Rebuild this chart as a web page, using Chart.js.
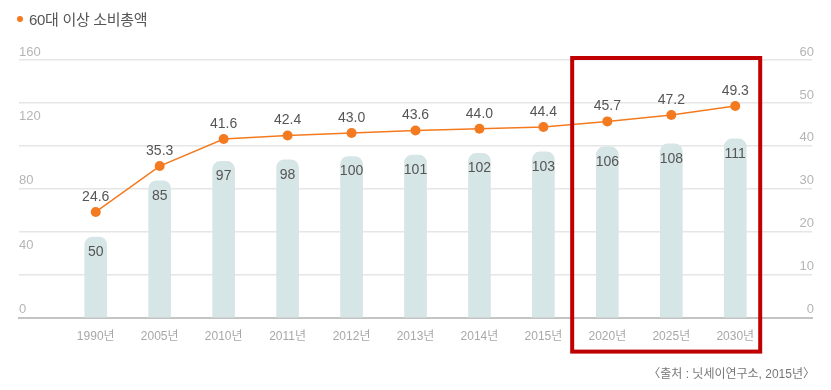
<!DOCTYPE html>
<html>
<head>
<meta charset="utf-8">
<script src="https://cdn.jsdelivr.net/npm/chart.js@4/dist/chart.umd.min.js"></script>
<style>
  html, body { margin: 0; padding: 0; background: #fff; }
  .wrap { position: relative; width: 831px; height: 390px; font-family: "Liberation Sans", "Noto Sans CJK KR", sans-serif; }
  .title { position: absolute; left: 17px; top: 8px; font-size: 15px; color: #555; letter-spacing: -0.3px; }
  .title .dot { display: inline-block; width: 6px; height: 6px; border-radius: 50%; background: #f47a20; margin-right: 6px; vertical-align: middle; position: relative; top: -2px; }
  .source { position: absolute; right: 16px; top: 364px; font-size: 12px; color: #777; }
  canvas { position: absolute; left: 0; top: 0; }
</style>
</head>
<body>
<div class="wrap">
  <canvas id="chart" width="831" height="390"></canvas>
  <div class="title"><span class="dot"></span>60대 이상 소비총액</div>
  <div class="source">〈출처 : 닛세이연구소, 2015년〉</div>
</div>
<script>
// data
const categories = ['1990년', '2005년', '2010년', '2011년', '2012년', '2013년', '2014년', '2015년', '2020년', '2025년', '2030년'];
const spending = [50, 85, 97, 98, 100, 101, 102, 103, 106, 108, 111];
const share = [24.6, 35.3, 41.6, 42.4, 43.0, 43.6, 44.0, 44.4, 45.7, 47.2, 49.3];
const highlightFrom = '2020년';

const FONT = '"Liberation Sans", "Noto Sans CJK KR", sans-serif';

// value labels over the points and inside the bars
const valueLabels = {
  id: 'valueLabels',
  afterDatasetsDraw(chart) {
    const ctx = chart.ctx;
    ctx.save();
    ctx.font = '14px ' + FONT;
    ctx.fillStyle = '#555';
    ctx.textAlign = 'center';
    ctx.textBaseline = 'middle';
    chart.getDatasetMeta(1).data.forEach((bar, i) => {
      ctx.fillText(String(spending[i]), bar.x, bar.y + 15);
    });
    chart.getDatasetMeta(0).data.forEach((pt, i) => {
      ctx.fillText(share[i].toFixed(1), pt.x, pt.y - 15);
    });
    ctx.restore();
  }
};

// red box round the forecast years
const forecastBox = {
  id: 'forecastBox',
  afterDraw(chart) {
    const x = chart.scales.x;
    const area = chart.chartArea;
    const start = categories.indexOf(highlightFrom);
    const left = x.getPixelForValue(start - 0.55);
    const right = x.getPixelForValue(categories.length - 1 + 0.39);
    const ctx = chart.ctx;
    ctx.save();
    ctx.strokeStyle = '#c00000';
    ctx.lineWidth = 4;
    ctx.strokeRect(left, area.top - 2, right - left, area.bottom - area.top + 36);
    ctx.restore();
  }
};

new Chart(document.getElementById('chart'), {
  data: {
    datasets: [
      {
        type: 'line',
        data: share.map((v, i) => ({ x: i, y: v })),
        yAxisID: 'y2',
        borderColor: '#f47a20',
        borderWidth: 1.5,
        backgroundColor: '#f47a20',
        pointRadius: 5,
        pointBorderWidth: 0,
        tension: 0,
        order: 0
      },
      {
        type: 'bar',
        data: spending.map((v, i) => ({ x: i, y: v })),
        yAxisID: 'y',
        backgroundColor: '#d6e5e5',
        barThickness: 22,
        borderRadius: 8,
        borderSkipped: 'start',
        order: 1
      }
    ]
  },
  options: {
    responsive: false,
    animation: false,
    layout: { padding: { left: 19, right: 15, top: 60, bottom: 42 } },
    plugins: { legend: { display: false }, tooltip: { enabled: false } },
    scales: {
      x: {
        type: 'linear',
        offset: false,
        min: -1.2,
        max: categories.length - 1 + 1.2,
        afterBuildTicks: axis => { axis.ticks = categories.map((_, i) => ({ value: i })); },
        ticks: {
          callback: v => categories[v] || '',
          color: '#a8a8a8',
          font: { family: FONT, size: 12 },
          padding: 4,
          maxRotation: 0,
          autoSkip: false
        },
        grid: { display: false },
        border: { color: '#c4c4c4', width: 2 }
      },
      y: {
        position: 'left',
        min: 0,
        max: 160,
        ticks: {
          stepSize: 40,
          mirror: true,
          padding: 0,
          labelOffset: -8,
          color: '#b5b5b5',
          font: { family: FONT, size: 13 }
        },
        grid: { display: false, drawTicks: false },
        border: { display: false }
      },
      y2: {
        position: 'right',
        min: 0,
        max: 60,
        ticks: {
          stepSize: 10,
          mirror: true,
          padding: 2,
          labelOffset: -8,
          color: '#b5b5b5',
          font: { family: FONT, size: 13 }
        },
        grid: { color: '#e6e6e6', lineWidth: 1.5, drawTicks: false },
        border: { display: false }
      }
    }
  },
  plugins: [valueLabels, forecastBox]
});
</script>
</body>
</html>
